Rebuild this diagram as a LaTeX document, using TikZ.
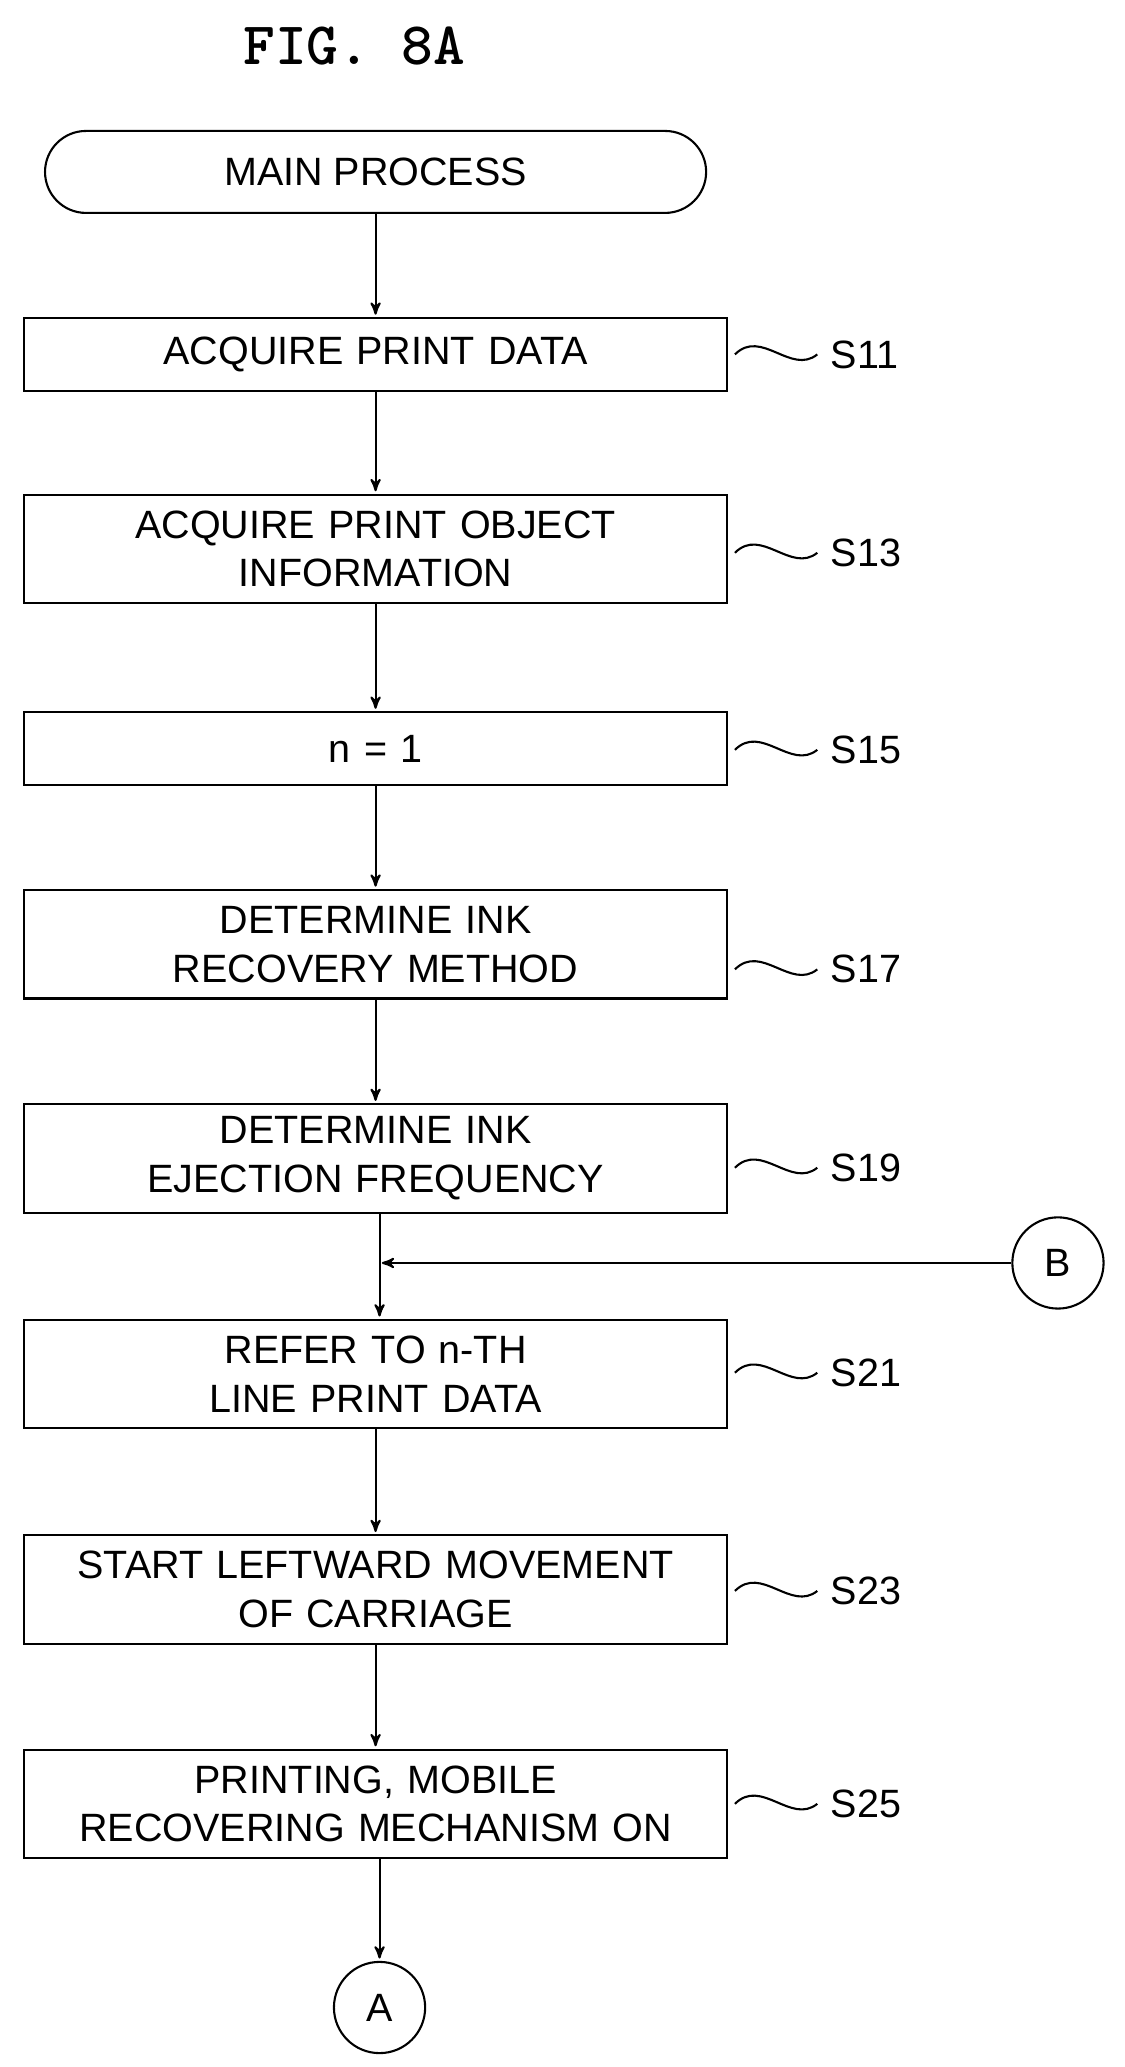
\documentclass[tikz,border=0pt]{standalone}
\usepackage{fontspec}
\setmainfont{Liberation Sans}
\usetikzlibrary{arrows}
\tikzstyle{pblock} = [rectangle, draw, line width=0.9pt, text width=10.64cm, align=center, minimum height=1.64cm, inner sep=0pt]
\tikzstyle{pblocks} = [pblock, minimum height=1.1cm]
\tikzstyle{term} = [rectangle, draw, line width=0.9pt, rounded corners=0.62cm, minimum width=10cm, minimum height=1.24cm]
\tikzstyle{conn} = [circle, draw, line width=0.9pt, minimum size=1.38cm, inner sep=0pt]
\tikzstyle{lbl} = [anchor=west, inner sep=0pt]
\tikzstyle{line} = [draw, line width=0.9pt, ->, >=stealth', shorten >=1pt]
\tikzstyle{wave} = [draw, line width=0.9pt]

\begin{document}
\begin{tikzpicture}[x=0.02cm, y=-0.02cm, font=\fontsize{17}{21}\selectfont]
\useasboundingbox (0,0) rectangle (850,1563);

\node [font=\ttfamily\bfseries\fontsize{26}{30}\selectfont] (title) at (268,35) {FIG. 8A};
\node [term] (M) at (284,130) {MAIN PROCESS};
\node [pblocks] (S11) at (284,268) {ACQUIRE PRINT DATA};
\node [pblock] (S13) at (284,415) {ACQUIRE PRINT OBJECT\\INFORMATION};
\node [pblocks] (S15) at (284,566) {n = 1};
\node [pblock] (S17) at (284,714) {DETERMINE INK\\RECOVERY METHOD};
\node [pblock] (S19) at (284,876) {DETERMINE INK\\EJECTION FREQUENCY};
\node [pblock] (S21) at (284,1039) {REFER TO n-TH\\LINE PRINT DATA};
\node [pblock] (S23) at (284,1202) {START LEFTWARD MOVEMENT\\OF CARRIAGE};
\node [pblock] (S25) at (284,1364) {PRINTING, MOBILE\\RECOVERING MECHANISM ON};
\node [conn] (A) at (287,1518) {A};
\node [conn] (B) at (800,955) {B};
\coordinate (j) at (287,955);

\path [line] (M) -- (S11);
\path [line] (S11) -- (S13);
\path [line] (S13) -- (S15);
\path [line] (S15) -- (S17);
\path [line] (S17) -- (S19);
\draw [line width=0.9pt] (S19.south -| j) -- (j);
\path [line] (j) -- (S21.north -| j);
\path [line] (B) -- (j);
\path [line] (S21) -- (S23);
\path [line] (S23) -- (S25);
\path [line] (S25.south -| A) -- (A);

% step labels
\foreach \s/\y in {S11/268, S13/418, S15/567, S17/733, S19/883, S21/1038, S23/1203, S25/1364} {
  \node [lbl] (l\s) at (628,\y) {\s};
  \path [wave] (\s.east |- l\s.west) ++(5,0) .. controls +(20,-20) and +(-20,16) .. ([xshift=-0.2cm]l\s.west);
}
\end{tikzpicture}
\end{document}
